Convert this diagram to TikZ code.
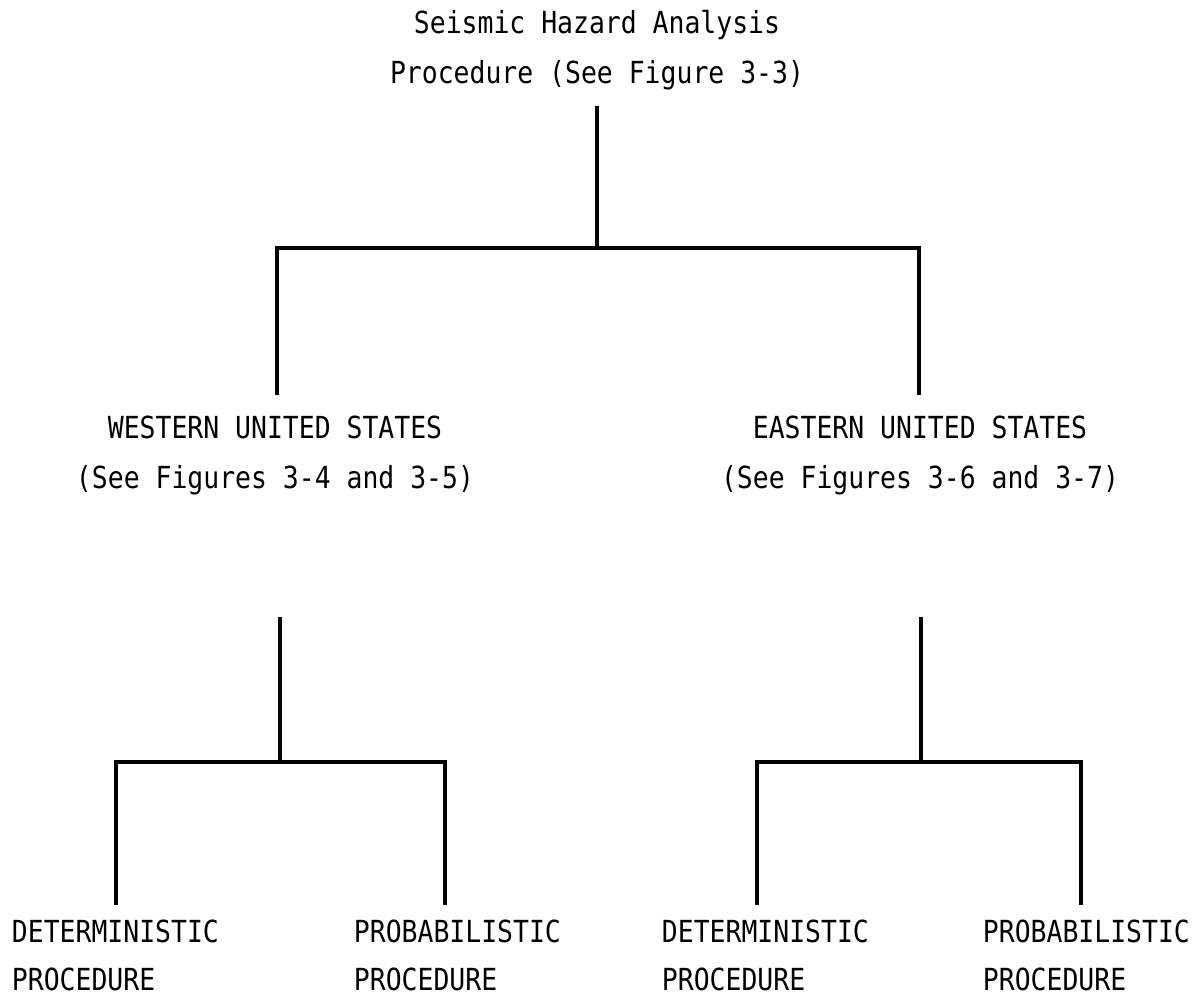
\documentclass[tikz,border=0pt]{standalone}
\usepackage{fontspec}
\newfontfamily\typefont[FakeStretch=0.87]{DejaVu Sans Mono}
\usetikzlibrary{positioning}

\begin{document}
\begin{tikzpicture}[x=0.02cm,y=-0.02cm,line width=2.2pt,
  lbl/.style={inner sep=0pt,font=\typefont\fontsize{17.3}{28.4}\selectfont,align=center},
  leaf/.style={lbl,align=left,anchor=base west,font=\typefont\fontsize{17.3}{27.3}\selectfont}]
\useasboundingbox (0,0) rectangle (1202,1002);
\node [lbl,anchor=base] (top) at (597,83) {Seismic Hazard Analysis\\Procedure (See Figure 3-3)};
\node [lbl,anchor=base] (west) at (275,488) {WESTERN UNITED STATES\\(See Figures 3-4 and 3-5)};
\node [lbl,anchor=base] (east) at (920,488) {EASTERN UNITED STATES\\(See Figures 3-6 and 3-7)};
\node [leaf] (wdet) at (10,990) {DETERMINISTIC\\PROCEDURE};
\node [leaf] (wprob) at (352,990) {PROBABILISTIC\\PROCEDURE};
\node [leaf] (edet) at (660,990) {DETERMINISTIC\\PROCEDURE};
\node [leaf] (eprob) at (981,990) {PROBABILISTIC\\PROCEDURE};
\coordinate (topstem) at (597,106);
\coordinate (topbar) at (597,248);
\coordinate (westin) at (277,395);
\coordinate (eastin) at (919,395);
\coordinate (weststem) at (280,617);
\coordinate (westbar) at (280,762);
\coordinate (eaststem) at (921,617);
\coordinate (eastbar) at (921,762);
\coordinate (wdetin) at (116,905);
\coordinate (wprobin) at (445,905);
\coordinate (edetin) at (757,905);
\coordinate (eprobin) at (1081,905);
\draw [black] (topstem) -- (topbar);
\draw [black] (topbar) -| (westin);
\draw [black] (topbar) -| (eastin);
\draw [black] (weststem) -- (westbar);
\draw [black] (westbar) -| (wdetin);
\draw [black] (westbar) -| (wprobin);
\draw [black] (eaststem) -- (eastbar);
\draw [black] (eastbar) -| (edetin);
\draw [black] (eastbar) -| (eprobin);
\end{tikzpicture}
\end{document}
